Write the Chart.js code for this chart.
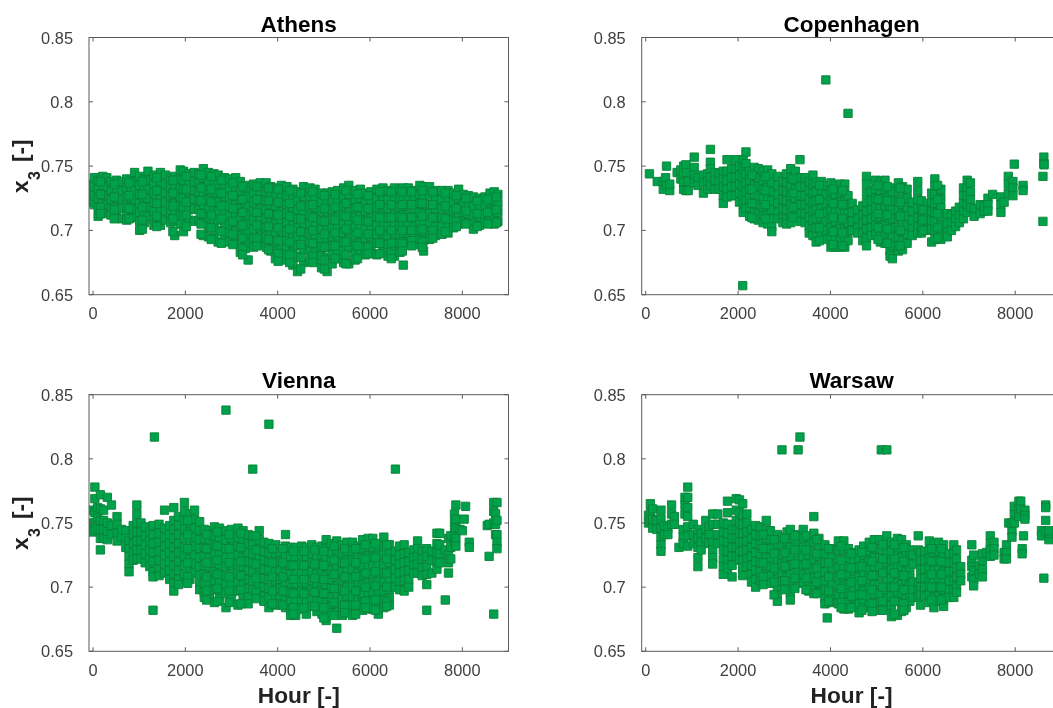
<!DOCTYPE html>
<html>
<head>
<meta charset="utf-8">
<title>x3 per hour</title>
<script src="https://cdn.jsdelivr.net/npm/chart.js@4/dist/chart.umd.min.js"></script>
<style>
html, body { margin: 0; padding: 0; background: #fff; overflow: hidden; width: 1053px; height: 708px; }
canvas { position: absolute; filter: blur(0.4px); }
</style>
</head>
<body>
<canvas id="athens" style="left:0;top:0" width="526" height="345"></canvas>
<canvas id="copenhagen" style="left:560px;top:0" width="520" height="345"></canvas>
<canvas id="vienna" style="left:0;top:360px" width="526" height="350"></canvas>
<canvas id="warsaw" style="left:560px;top:360px" width="520" height="350"></canvas>
<script>
const xTickValues = [0, 2000, 4000, 6000, 8000];
const yTickValues = [0.65, 0.7, 0.75, 0.8, 0.85];

// each row: hour, then the x3 values read at about that hour
const athensRows = [
[-30,.736,.729,.722],[30,.741,.734,.727,.720],[110,.739,.732,.725,.718,.711],[210,.742,.735,.728,.721,.714],
[300,.741,.734,.727,.720,.713],[390,.738,.731,.724,.717,.712],[510,.739,.732,.725,.718,.711],[620,.738,.731,.724,.717,.709],
[730,.740,.733,.726,.719,.712,.708],[830,.739,.732,.725,.718,.710],[900,.745,.738,.731,.724,.717,.710],[1010,.742,.735,.728,.721,.714,.707,.700],
[1110,.740,.733,.726,.719,.712,.706],[1190,.746,.739,.732,.725,.718,.711],[1320,.743,.736,.729,.722,.715,.708,.704],[1460,.745,.738,.731,.724,.717,.710,.704],
[1570,.743,.736,.729,.722,.715,.708],[1680,.741,.734,.727,.720,.713,.706],[1770,.742,.735,.728,.721,.714,.707,.696],[1890,.747,.740,.733,.726,.719,.712,.705],
[1960,.746,.739,.732,.725,.718,.711,.699],[2080,.744,.737,.730,.723,.716,.708],[2190,.745,.738,.731,.724,.717,.707],[2290,.744,.737,.730,.723,.716,.708],
[2390,.748,.741,.734,.727,.720,.713,.706,.696],[2500,.745,.738,.731,.724,.717,.710,.703,.695],[2620,.744,.737,.730,.723,.716,.709,.702,.694],[2710,.743,.736,.729,.722,.715,.708,.700,.691],
[2850,.741,.734,.727,.720,.713,.706,.699,.693],[2960,.740,.733,.726,.719,.712,.705,.698,.691],[3090,.741,.734,.727,.720,.713,.706,.699,.690],[3190,.738,.731,.724,.717,.710,.703,.696,.689,.683],
[3300,.735,.728,.721,.714,.707,.700,.693,.686],[3360,.733,.726,.719,.712,.705,.698,.690,.677],[3480,.736,.729,.722,.715,.708,.701,.694,.687],[3620,.737,.730,.723,.716,.709,.702,.695,.689],
[3750,.737,.730,.723,.716,.709,.702,.695,.687],[3850,.734,.727,.720,.713,.706,.699,.692,.684],[3950,.733,.726,.719,.712,.705,.698,.691,.684,.678],[4080,.735,.728,.721,.714,.707,.700,.693,.685,.677],
[4200,.734,.727,.720,.713,.706,.699,.692,.686,.681],[4330,.732,.725,.718,.711,.704,.697,.690,.683,.673],[4430,.730,.723,.716,.709,.702,.695,.688,.680,.668],[4560,.734,.727,.720,.713,.706,.699,.692,.685,.675],
[4700,.733,.726,.719,.712,.705,.698,.691,.684,.677],[4810,.732,.725,.718,.711,.704,.697,.690,.683,.676],[4950,.729,.722,.715,.708,.701,.694,.687,.680,.671],[5070,.729,.722,.715,.708,.701,.694,.687,.679,.668],
[5180,.730,.723,.716,.709,.702,.695,.688,.681,.674],[5300,.731,.724,.717,.710,.703,.696,.689,.682,.678],[5430,.733,.726,.719,.712,.705,.698,.691,.684,.675],[5540,.735,.728,.721,.714,.707,.700,.693,.686,.674],
[5680,.731,.724,.717,.710,.703,.696,.689,.682,.677],[5790,.732,.725,.718,.711,.704,.697,.690,.683],[5900,.729,.722,.715,.708,.701,.694,.687,.681],[6020,.730,.723,.716,.709,.702,.695,.688,.682],
[6150,.732,.725,.718,.711,.704,.697,.690,.681],[6280,.733,.726,.719,.712,.705,.698,.691,.684],[6390,.731,.724,.717,.710,.703,.696,.689,.680],[6530,.733,.726,.719,.712,.705,.698,.691,.684,.680],
[6650,.732,.725,.718,.711,.704,.697,.690,.683],[6720,.733,.726,.719,.712,.705,.698,.691,.673],[6830,.733,.726,.719,.712,.705,.698,.691],[6960,.731,.724,.717,.710,.703,.696,.689],
[7080,.735,.728,.721,.714,.707,.700,.693],[7160,.734,.727,.720,.713,.706,.699,.692,.684],[7290,.734,.727,.720,.713,.706,.699,.693],[7420,.731,.724,.717,.710,.703,.696],
[7560,.731,.724,.717,.710,.703,.697],[7690,.731,.724,.717,.710,.703,.698],[7810,.729,.722,.715,.708,.702],[7920,.732,.725,.718,.711,.705],
[8020,.728,.721,.714,.707],[8130,.727,.720,.713,.706],[8240,.726,.719,.712,.705,.701],[8370,.725,.718,.711,.704],
[8490,.726,.719,.712,.706],[8600,.729,.722,.715,.707],[8690,.730,.723,.716,.709,.705],[8770,.728,.721,.714,.707],
[160,.738,.728,.718,.713],[460,.736,.726,.716,.709],[780,.737,.727,.717,.709],[1070,.738,.728,.718,.708,.701],[1380,.741,.731,.721,.711,.703],[1730,.739,.729,.719,.709,.699],
[2020,.742,.732,.722,.712,.703],[2340,.743,.733,.723,.713,.705,.697],[2560,.742,.732,.722,.712,.702,.693],[2780,.739,.729,.719,.709,.699,.690],[3030,.737,.727,.717,.707,.697,.689],[3240,.734,.724,.714,.704,.694,.686,.681],
[3550,.734,.724,.714,.704,.694,.688],[3800,.733,.723,.713,.703,.693,.685],[4010,.732,.722,.712,.702,.692,.682,.676],[4260,.731,.721,.711,.701,.691,.681,.675],[4500,.729,.719,.709,.699,.689,.679,.670],[4760,.730,.720,.710,.700,.690,.680,.675],
[5010,.727,.717,.707,.697,.687,.677,.670],[5240,.728,.718,.708,.698,.688,.678],[5480,.731,.721,.711,.701,.691,.681,.674],[5730,.728,.718,.708,.698,.688,.678],[5960,.727,.717,.707,.697,.687,.682],[6210,.730,.720,.710,.700,.690,.682],
[6460,.730,.720,.710,.700,.690,.682,.678],[6700,.730,.720,.710,.700,.690,.684],[6900,.730,.720,.710,.700,.692,.688],[7130,.731,.721,.711,.701,.691,.687],[7360,.730,.720,.710,.700,.694],[7630,.729,.719,.709,.699],
[7870,.727,.717,.707,.703],[8080,.725,.715,.705],[8320,.723,.713,.703],[8550,.724,.714,.705],[8740,.726,.716,.706]
];

const copenhagenRows = [
[80,.744],[250,.738],[380,.732,.738],[430,.741],[450,.750,.735],[520,.731,.736],[680,.745],[760,.740,.747],[820,.732,.738,.744,.750],[870,.751,.745,.731],
[920,.738,.731],[1050,.757,.749,.743,.737],[1130,.741,.735],[1250,.743,.737,.729],[1340,.744,.738,.732],[1400,.763,.753,.748,.741,.735],[1500,.745,.739,.732],[1590,.744,.738,.732],
[1680,.746,.740,.734,.727,.721],[1760,.755,.746,.739,.732,.726],[1860,.748,.741,.734,.727],[1950,.755,.748,.741,.734,.727],[2030,.750,.743,.736,.729,.722],[2110,.755,.748,.741,.734,.727,.720,.714],
[2170,.761,.752,.744,.737,.730,.723,.717],[2250,.746,.739,.732,.725,.718,.711],[2350,.749,.742,.735,.728,.721,.714,.709],[2440,.748,.741,.734,.727,.720,.713,.708],[2540,.746,.739,.732,.725,.718,.711,.706],[2640,.747,.740,.733,.726,.719,.712,.705],
[2730,.744,.737,.730,.723,.716,.709,.703,.699],[2860,.742,.735,.728,.721,.714,.709],[2970,.738,.731,.724,.717,.710,.706],[3050,.744,.737,.730,.723,.716,.709,.705],[3140,.748,.741,.734,.727,.720,.713,.706],[3240,.746,.739,.732,.725,.718,.711],
[3340,.755,.741,.734,.727,.720,.713,.707],[3450,.741,.734,.727,.720,.713,.706],[3540,.738,.731,.724,.717,.710,.703,.698],[3620,.743,.736,.729,.722,.715,.708,.701,.696],[3690,.737,.730,.723,.716,.709,.702,.695,.691],[3800,.738,.731,.724,.717,.710,.703,.696],
[3900,.817,.735,.728,.721,.714,.707,.700,.693],[4010,.737,.730,.723,.716,.709,.702,.695,.687],[4110,.735,.728,.721,.714,.707,.700,.693,.687],[4210,.736,.729,.722,.715,.708,.701,.694,.687],[4310,.736,.729,.722,.715,.708,.701,.694,.687],[4380,.791,.727,.720,.713,.706,.699,.692],
[4470,.721,.714,.707,.700],[4590,.716,.709,.702,.698],[4700,.719,.712,.705,.698,.692],[4780,.742,.736,.729,.722,.715,.708,.701,.694,.688],[4880,.730,.723,.716,.709,.702,.696],[4980,.739,.732,.725,.718,.711,.704,.697],
[5080,.738,.731,.724,.717,.710,.703,.696,.691],[5180,.739,.732,.725,.718,.711,.704,.697,.690],[5290,.733,.726,.719,.712,.705,.698,.691,.684,.680],[5340,.730,.723,.716,.709,.702,.695,.688,.678],[5470,.737,.730,.723,.716,.709,.702,.695,.688,.684],[5560,.734,.727,.720,.713,.706,.699,.692,.685],
[5660,.732,.725,.718,.711,.704,.697,.690],[5770,.722,.715,.708,.701,.696],[5890,.738,.731,.724,.717,.710,.703,.698],[5970,.723,.716,.709,.702,.698],[6100,.721,.714,.707,.700],[6190,.729,.722,.715,.708,.701,.691],
[6260,.740,.735,.728,.721,.714,.707,.700,.693],[6390,.732,.725,.718,.711,.704,.697,.693],[6530,.713,.706,.699,.695],[6620,.712,.706,.700],[6710,.715,.709,.703],[6790,.718,.712,.706],
[6880,.733,.727,.721,.715,.709],[6960,.739,.733,.727,.720,.714],[7030,.737,.730,.724,.718],[7110,.711,.717],[7240,.720,.713],[7330,.715,.719],
[7410,.725,.720,.715],[7510,.728],[7690,.726,.720,.714],[7760,.722],[7850,.742,.736,.729],[7950,.738,.733,.727],
[7980,.7515],[8170,.735,.731],[8600,.742],[8620,.757,.752],[8625,.751],[8600,.707],
[2100,.657],
[2300,.743,.732,.721,.710],[2590,.742,.731,.720,.709],[3190,.740,.729,.718,.710],[3760,.735,.724,.713,.702,.692],[4060,.732,.721,.710,.699,.689],[4260,.731,.720,.709,.698,.688],
[5030,.735,.724,.713,.702,.693],[5230,.734,.723,.712,.701,.690],[5510,.733,.722,.711,.700,.688],[6000,.716,.708,.700],[6320,.735,.724,.713,.702,.694]
];

const viennaRows = [
[-20,.760,.750,.743],[40,.778,.769,.758,.750,.744],[100,.762,.754,.746],[160,.772,.761,.752,.745,.738,.729],[230,.760,.752,.745,.738],[310,.770,.750,.743,.737],
[400,.764,.748,.741],[520,.755,.749,.742,.736],[620,.745,.739],[710,.744,.738,.731],[780,.736,.730,.724,.718,.712],[870,.748,.741,.734,.727,.721],
[950,.764,.757,.750,.743,.736,.729,.722],[1040,.750,.743,.736,.729,.722],[1130,.747,.740,.733,.726,.719],[1230,.743,.736,.729,.722,.716],[1300,.748,.741,.734,.727,.720,.712,.708,.682],[1330,.817],
[1430,.749,.742,.735,.728,.721,.714,.709],[1550,.760,.746,.739,.732,.725,.718,.711],[1660,.748,.741,.734,.727,.720,.713,.706],[1750,.762,.752,.745,.738,.731,.724,.717,.710,.703,.697],[1850,.755,.748,.741,.734,.727,.720,.713,.706,.702],[1980,.766,.759,.752,.745,.738,.731,.724,.717,.710],
[2100,.757,.750,.743,.736,.729,.722,.715,.706],[2200,.760,.753,.746,.739,.732,.725,.718,.711],[2310,.751,.744,.737,.730,.723,.716,.709,.702,.698],[2410,.745,.738,.731,.724,.717,.710,.703,.696,.692],[2520,.744,.737,.730,.723,.716,.709,.702,.695,.691],[2630,.747,.740,.733,.726,.719,.712,.705,.698,.688],
[2740,.746,.739,.732,.725,.718,.711,.704,.697,.691],[2880,.838,.744,.737,.730,.723,.716,.709,.702,.695,.684],[3000,.745,.738,.731,.724,.717,.710,.703,.696,.691],[3140,.746,.739,.732,.725,.718,.711,.704,.697,.686],[3250,.744,.737,.730,.723,.716,.709,.702,.695,.688],[3360,.741,.734,.727,.720,.713,.706,.699,.692,.687],
[3460,.792,.740,.733,.726,.719,.712,.705,.698],[3600,.744,.737,.730,.723,.716,.709,.702,.696],[3700,.735,.728,.721,.714,.707,.700,.693,.689],[3810,.827,.734,.727,.720,.713,.706,.699,.692,.684],[3960,.733,.726,.719,.712,.705,.698,.691,.686],[4050,.727,.720,.713,.706,.699,.692,.687],
[4170,.741,.732,.725,.718,.711,.704,.697,.690,.684],[4280,.731,.724,.717,.710,.703,.696,.689,.682,.678],[4390,.731,.724,.717,.710,.703,.696,.689,.682,.678],[4520,.732,.725,.718,.711,.704,.697,.690,.683],[4620,.731,.724,.717,.710,.703,.696,.689,.679],[4740,.733,.726,.719,.712,.705,.698,.691,.685],
[4850,.731,.724,.717,.710,.703,.696,.689,.681],[4960,.732,.725,.718,.711,.704,.697,.690,.683,.679],[5050,.737,.730,.723,.716,.709,.702,.695,.688,.681,.674],[5160,.734,.727,.720,.713,.706,.699,.692,.685,.680],[5280,.736,.729,.722,.715,.708,.701,.694,.687,.680,.668],[5400,.733,.726,.719,.712,.705,.698,.691,.684,.678],
[5500,.735,.728,.721,.714,.707,.700,.693,.686,.680],[5620,.735,.728,.721,.714,.707,.700,.693,.686,.678],[5740,.732,.725,.718,.711,.704,.697,.690,.683],[5840,.737,.730,.723,.716,.709,.702,.695,.688,.682],[5960,.738,.731,.724,.717,.710,.703,.696,.689,.683],[6060,.738,.731,.724,.717,.710,.703,.696,.689,.683],
[6180,.732,.725,.718,.711,.704,.697,.690,.683,.679],[6300,.739,.732,.725,.718,.711,.704,.697,.690,.684],[6420,.733,.726,.719,.712,.705,.698,.691,.686],[6550,.792,.728,.721,.714,.707,.700],[6640,.732,.725,.718,.711,.704,.698],[6740,.733,.726,.719,.712,.705,.697],
[6840,.727,.720,.713,.706,.700],[6950,.729,.723,.717,.711],[7030,.736,.730,.724,.718,.711],[7130,.728,.722,.715,.709],[7230,.730,.724,.716,.710,.702,.682],[7340,.728,.721,.711],
[7450,.734,.742,.727,.720,.714],[7510,.742,.733,.726,.719],[7630,.729,.690],[7700,.738,.725,.719,.711],[7750,.740,.731,.722],[7830,.757,.750,.743,.735],
[7860,.764,.753,.746,.738,.732],[7950,.745],[8000,.744],[8040,.753],[8070,.763],[8150,.735,.731],
[8540,.748],[8580,.724,.749],[8680,.766,.759,.750,.679],[8720,.757,.749,.741],[8750,.766,.752,.741,.735,.730],
[2050,.752,.741,.730,.719,.708,.703],[2460,.741,.730,.719,.708,.697,.690],[2690,.743,.732,.721,.710,.699,.689],[2950,.741,.730,.719,.708,.697,.688],[3200,.742,.731,.720,.709,.698,.687],[3530,.740,.729,.718,.707,.696,.691],
[3880,.730,.719,.708,.697,.687],[4110,.730,.719,.708,.697,.686],[4340,.728,.717,.706,.695,.684,.679],[4570,.728,.717,.706,.695,.684],[4800,.729,.718,.707,.696,.685],[5000,.728,.717,.706,.695,.684,.676],
[5220,.732,.721,.710,.699,.688,.678],[5450,.730,.719,.708,.697,.686,.680],[5690,.730,.719,.708,.697,.686,.679],[5900,.733,.722,.711,.700,.689,.684],[6120,.734,.723,.712,.701,.690,.682],[6360,.733,.722,.711,.700,.689,.685]
];

const warsawRows = [
[60,.750,.756],[100,.765,.758,.752],[150,.761,.753,.746],[240,.752,.745],[330,.760,.753,.746,.739,.733,.728],[400,.748,.741],
[480,.746,.741],[560,.764,.757,.749],[620,.755,.749],[720,.731],[810,.745,.739,.734],[850,.770,.764,.757],
[910,.778,.770,.762,.755,.747,.740,.732],[1030,.749,.741,.734],[1130,.745,.738,.731,.723,.716],[1200,.742,.735,.729],[1300,.752,.745,.738],[1370,.747,.741,.734],
[1450,.757,.749,.735,.729,.723,.718],[1560,.757,.749,.741,.734],[1680,.750,.743,.736,.729,.722,.716,.710],[1770,.767,.758,.749,.742,.735,.728,.721,.715],[1870,.745,.738,.731,.724,.717,.708],[1960,.769,.760,.752,.745,.738,.731,.724],
[2030,.768,.758,.750,.742,.735,.727,.721],[2100,.765,.756,.749,.742,.735,.728,.721,.715,.709],[2190,.757,.750,.743,.736,.729,.722,.716],[2290,.745,.738,.731,.724,.717,.710,.704],[2380,.748,.741,.734,.727,.720,.713,.706,.700],[2480,.747,.740,.733,.726,.719,.712,.705],
[2610,.752,.745,.738,.731,.724,.717,.710,.705],[2700,.744,.737,.730,.723,.716,.709,.703],[2850,.741,.734,.727,.720,.713,.706,.699,.694,.689],[2950,.807,.739,.732,.725,.718,.711,.705],[3060,.743,.736,.729,.722,.715,.708],[3130,.745,.738,.731,.724,.717,.710,.703,.696,.690],
[3300,.807,.741,.734,.727,.720,.713,.706],[3340,.817],[3410,.745,.738,.731,.724,.717,.710,.703],[3530,.739,.732,.725,.718,.711,.704,.697],[3640,.755,.742,.735,.728,.721,.714,.707,.700,.695],[3750,.738,.731,.724,.717,.710,.703,.696],
[3880,.733,.726,.719,.712,.705,.698,.691,.687],[3930,.676],[4030,.730,.723,.716,.709,.702,.695,.688],[4170,.736,.729,.722,.715,.708,.701,.694,.687],[4290,.736,.729,.722,.715,.708,.701,.694,.683],[4390,.730,.723,.716,.709,.702,.695,.688,.683],
[4510,.727,.720,.713,.706,.699,.692,.685],[4620,.729,.722,.715,.708,.701,.694,.687,.680],[4720,.732,.725,.718,.711,.704,.697,.690,.684],[4840,.735,.728,.721,.714,.707,.700,.693,.686],[4950,.737,.730,.723,.716,.709,.702,.695,.688,.682],[5060,.737,.730,.723,.716,.709,.702,.695,.688,.682],
[5100,.807],[5220,.807,.740,.733,.726,.719,.712,.705,.698,.691,.684],[5320,.735,.728,.721,.714,.707,.700,.693,.686,.677],[5450,.738,.731,.724,.717,.710,.703,.696,.689,.678],[5540,.737,.730,.723,.716,.709,.702,.695,.688,.681],[5640,.733,.726,.719,.712,.705,.698,.691,.684],
[5720,.729,.722,.715,.708,.701,.694,.689],[5790,.725,.718,.704,.698,.692],[5900,.740,.729,.703,.697,.692],[5950,.727,.721,.714,.707,.700,.694,.686],[6040,.728,.721,.714,.707,.700,.693],[6140,.736,.729,.722,.715,.708,.701,.694,.688],
[6240,.734,.727,.720,.713,.706,.699,.692,.684],[6340,.735,.728,.721,.714,.707,.700,.693,.689],[6450,.733,.726,.719,.712,.705,.698,.691,.685],[6560,.726,.719,.712,.705,.698,.692],[6670,.733,.726,.719,.712,.705,.698,.692],[6730,.729,.722,.715,.708,.701,.696],
[6820,.716,.710,.705],[7060,.733,.721,.716,.708],[7100,.725,.713,.706,.701],[7220,.717,.710],[7290,.721,.726,.714,.708],[7380,.727],
[7460,.740,.734,.729,.724],[7540,.735,.730,.725],[7760,.727,.722],[7810,.733,.727,.722],[7860,.750],[7930,.744,.750,.739],
[7980,.757,.763,.750],[8080,.767,.760,.755],[8120,.767,.761],[8210,.760,.756,.753],[8180,.740],[8150,.730,.726],
[8570,.744,.740],[8620,.707],[8660,.764,.762,.752,.743],[8730,.737,.742,.744],
[2540,.741,.730,.719,.708,.702],[2780,.737,.726,.715,.704,.694],[3010,.738,.727,.716,.705,.698],[3230,.740,.729,.718,.707,.699],[3470,.740,.729,.718,.707,.698],[3700,.737,.726,.715,.704,.695],
[3960,.730,.719,.708,.697,.689],[4230,.732,.721,.710,.699,.688,.684],[4450,.726,.715,.704,.693,.684],[4680,.727,.716,.705,.694,.682],[4900,.731,.720,.709,.698,.687,.681],[5130,.733,.722,.711,.700,.689,.682],
[5380,.733,.722,.711,.700,.689,.679],[5590,.731,.720,.709,.698,.687,.682],[6190,.730,.720,.710,.700,.690],[6400,.730,.720,.710,.700,.690]
];

function rowsToPoints(rows) {
    return rows.flatMap(([hour, ...values]) => values.map(y => ({ x: hour, y })));
}

// MATLAB style box with ticks pointing inwards on all four sides
const boxPlugin = {
    id: 'box',
    afterDatasetsDraw(chart) {
        const { ctx, chartArea: a, scales } = chart;
        ctx.save();
        ctx.strokeStyle = '#5a5a5a';
        ctx.lineWidth = 1;
        ctx.strokeRect(a.left, a.top, a.right - a.left, a.bottom - a.top);
        ctx.beginPath();
        xTickValues.forEach(v => {
            const px = scales.x.getPixelForValue(v);
            ctx.moveTo(px, a.bottom); ctx.lineTo(px, a.bottom - 4);
            ctx.moveTo(px, a.top); ctx.lineTo(px, a.top + 4);
        });
        yTickValues.forEach(v => {
            const py = scales.y.getPixelForValue(v);
            ctx.moveTo(a.left, py); ctx.lineTo(a.left + 4, py);
            ctx.moveTo(a.right, py); ctx.lineTo(a.right - 4, py);
        });
        ctx.stroke();
        ctx.restore();
    }
};

// y label with a real subscript, the built in axis title cannot size the 3
const yLabelPlugin = {
    id: 'yLabel',
    afterDraw(chart, args, opts) {
        if (!opts.base) return;
        const { ctx } = chart;
        ctx.save();
        ctx.translate(28, opts.base);
        ctx.rotate(-Math.PI / 2);
        ctx.fillStyle = '#222';
        ctx.textBaseline = 'alphabetic';
        ctx.font = 'bold 22.7px "Liberation Sans", Arial, sans-serif';
        ctx.fillText('x', 0, 0);
        ctx.fillText('[-]', 31, 0);
        ctx.font = 'bold 16px "Liberation Sans", Arial, sans-serif';
        ctx.fillText('3', 13, 12);
        ctx.restore();
    }
};

function makePanel(id, title, rows, o) {
    return new Chart(document.getElementById(id), {
        type: 'scatter',
        data: {
            datasets: [{
                label: title,
                data: rowsToPoints(rows),
                pointStyle: 'rect',
                pointRadius: 5.9,
                backgroundColor: '#00a14b',
                borderColor: '#0a8237',
                borderWidth: 0.9
            }]
        },
        options: {
            responsive: false,
            animation: false,
            layout: { padding: { top: o.padTop, right: o.padRight, left: 0, bottom: 0 } },
            plugins: {
                legend: { display: false },
                tooltip: { enabled: false },
                yLabel: { base: o.yLabelBase },
                title: {
                    display: true,
                    text: title,
                    color: '#000',
                    fullSize: false,
                    font: { family: '"Liberation Sans", Arial, sans-serif', size: 22.5, weight: 'bold', lineHeight: 1.2 },
                    padding: { top: 0, bottom: o.titleGap }
                }
            },
            scales: {
                x: {
                    type: 'linear',
                    min: -87,
                    max: 9000,
                    grid: { display: false },
                    border: { display: false },
                    afterBuildTicks: s => { s.ticks = xTickValues.map(value => ({ value })); },
                    afterFit: s => { s.height = o.xHeight; },
                    ticks: {
                        color: '#404040',
                        padding: 2,
                        maxRotation: 0,
                        autoSkip: false,
                        font: { family: '"Liberation Sans", Arial, sans-serif', size: 16.4 },
                        callback: v => String(v)
                    },
                    title: {
                        display: o.xTitle,
                        text: 'Hour [-]',
                        color: '#222',
                        padding: 0,
                        font: { family: '"Liberation Sans", Arial, sans-serif', size: 22.7, weight: 'bold', lineHeight: 1.2 }
                    }
                },
                y: {
                    type: 'linear',
                    min: 0.65,
                    max: 0.85,
                    grid: { display: false },
                    border: { display: false },
                    afterBuildTicks: s => { s.ticks = yTickValues.map(value => ({ value })); },
                    afterFit: s => { s.width = o.yWidth; },
                    ticks: {
                        color: '#404040',
                        padding: 8,
                        autoSkip: false,
                        // the empty first line nudges the label down onto its tick
                        font: { family: '"Liberation Sans", Arial, sans-serif', size: 16.4, lineHeight: '3px' },
                        callback: v => ['', String(+v.toFixed(2))]
                    }
                }
            }
        },
        plugins: [boxPlugin, yLabelPlugin]
    });
}

makePanel('athens', 'Athens', athensRows, { padTop: 12.5, titleGap: -2, padRight: 17.5, xHeight: 50.3, yWidth: 89, yLabelBase: 193, xTitle: false });
makePanel('copenhagen', 'Copenhagen', copenhagenRows, { padTop: 12.5, titleGap: -2, padRight: 18.6, xHeight: 50.3, yWidth: 81.7, xTitle: false });
makePanel('vienna', 'Vienna', viennaRows, { padTop: 8.2, titleGap: -0.5, padRight: 17.5, xHeight: 58.7, yWidth: 89, yLabelBase: 190, xTitle: true });
makePanel('warsaw', 'Warsaw', warsawRows, { padTop: 8.2, titleGap: -0.5, padRight: 18.6, xHeight: 58.7, yWidth: 81.7, xTitle: true });
</script>
</body>
</html>
